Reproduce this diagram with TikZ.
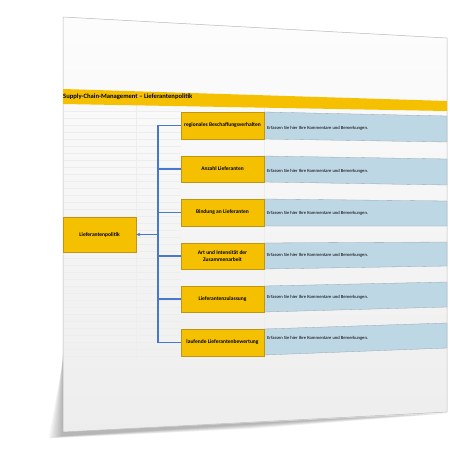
\documentclass[tikz,border=0pt]{standalone}
\usepackage{fontspec}
\setmainfont{Carlito}
\usetikzlibrary{arrows.meta,calc}
\definecolor{gold}{RGB}{245,192,0}
\definecolor{goldedge}{RGB}{190,150,20}
\definecolor{paleblue}{RGB}{190,215,229}
\definecolor{blueedge}{RGB}{150,165,175}
\definecolor{linkblue}{RGB}{72,120,205}
\tikzset{
  ybox/.style={draw=goldedge, line width=0.4pt, fill=gold, minimum width=83pt, inner sep=1pt,
    align=center, font=\bfseries\fontsize{5.5}{7}\selectfont},
  mainbox/.style={ybox, minimum width=73pt, minimum height=35pt},
  comment/.style={anchor=west, inner sep=0pt, font=\fontsize{4.6}{5.5}\selectfont},
  bquad/.style={fill=paleblue, draw=blueedge, line width=0.3pt},
  link/.style={draw=linkblue, line width=1.2pt},
  grid/.style={draw=gray!14, line width=0.3pt}
}
\begin{document}
\begin{tikzpicture}[x=1pt,y=-1pt]
\useasboundingbox (0,0) rectangle (450,450);
\fill[white] (0,0) rectangle (450,450);
% shadow
\foreach \i in {1,...,8}{
  \fill[black,opacity=0.04] (63,{345+\i*2}) -- ({63-\i*1.8},{436+\i*0.3}) -- ({250},{424+\i*0.6}) -- (447,{412+\i*0.2}) -- (63,432) -- cycle;
}
% page
\shade[top color=gray!2, bottom color=gray!14, draw=gray!55, line width=0.5pt]
  (63,17) -- (447,38) -- (447,412) -- (63,432) -- cycle;
% faint grid
\foreach \y in {111,118,...,360}{ \draw[grid] (64,\y) -- (181,\y); }
\draw[grid] (136,104) -- (136,360);
\draw[grid] (264,104) -- (264,360);
% title band
\fill[gold] (63,89) -- (447,101) -- (447,111) -- (63,104) -- cycle;
\node[anchor=west, inner sep=0pt, font=\bfseries\fontsize{6.6}{7.5}\selectfont] (title) at (63,97) {Supply-Chain-Management – Lieferantenpolitik};
% comment boxes (slight perspective)
\draw[bquad] (264,112) -- (447,116) -- (447,142) -- (264,139) -- cycle;
\draw[bquad] (264,156) -- (447,159) -- (447,185) -- (264,182) -- cycle;
\draw[bquad] (264,199) -- (447,201) -- (447,226) -- (264,226) -- cycle;
\draw[bquad] (264,243) -- (447,242) -- (447,266) -- (264,269) -- cycle;
\draw[bquad] (264,286) -- (447,282) -- (447,307) -- (264,312) -- cycle;
\draw[bquad] (264,329) -- (447,323) -- (447,348) -- (264,355) -- cycle;
% left box
\node[mainbox] (L) at (99.5,234.5) {Lieferantenpolitik};
% right boxes
\node[ybox, minimum height=27pt] (b1) at (222.5,125.5) {regionales Beschaffungsverhalten};
\node[ybox, minimum height=26pt] (b2) at (222.5,169) {Anzahl Lieferanten};
\node[ybox, minimum height=27pt] (b3) at (222.5,212.5) {Bindung an Lieferanten};
\node[ybox, minimum height=26pt] (b4) at (222.5,256) {Art und Intensität der\\Zusammenarbeit};
\node[ybox, minimum height=26pt] (b5) at (222.5,299) {Lieferantenzulassung};
\node[ybox, minimum height=27pt] (b6) at (222.5,342.5) {laufende Lieferantenbewertung};
% comments
\node[comment] (c1) at (267,128) {Erfassen Sie hier Ihre Kommentare und Bemerkungen.};
\node[comment] (c2) at (267,171) {Erfassen Sie hier Ihre Kommentare und Bemerkungen.};
\node[comment] (c3) at (267,213) {Erfassen Sie hier Ihre Kommentare und Bemerkungen.};
\node[comment] (c4) at (267,255) {Erfassen Sie hier Ihre Kommentare und Bemerkungen.};
\node[comment] (c5) at (267,297) {Erfassen Sie hier Ihre Kommentare und Bemerkungen.};
\node[comment] (c6) at (267,338) {Erfassen Sie hier Ihre Kommentare und Bemerkungen.};
% connectors
\coordinate (trunk) at (158,235);
\draw[link] (b1.west) -- (b1.west -| trunk) -- (b6.west -| trunk) -- (b6.west);
\foreach \n in {b2,b3,b4,b5}{ \draw[link] (\n.west -| trunk) -- (\n.west); }
\draw[link, -{Stealth[length=4pt,width=3.5pt]}] (L.east -| trunk) -- (L.east);
\end{tikzpicture}
\end{document}
